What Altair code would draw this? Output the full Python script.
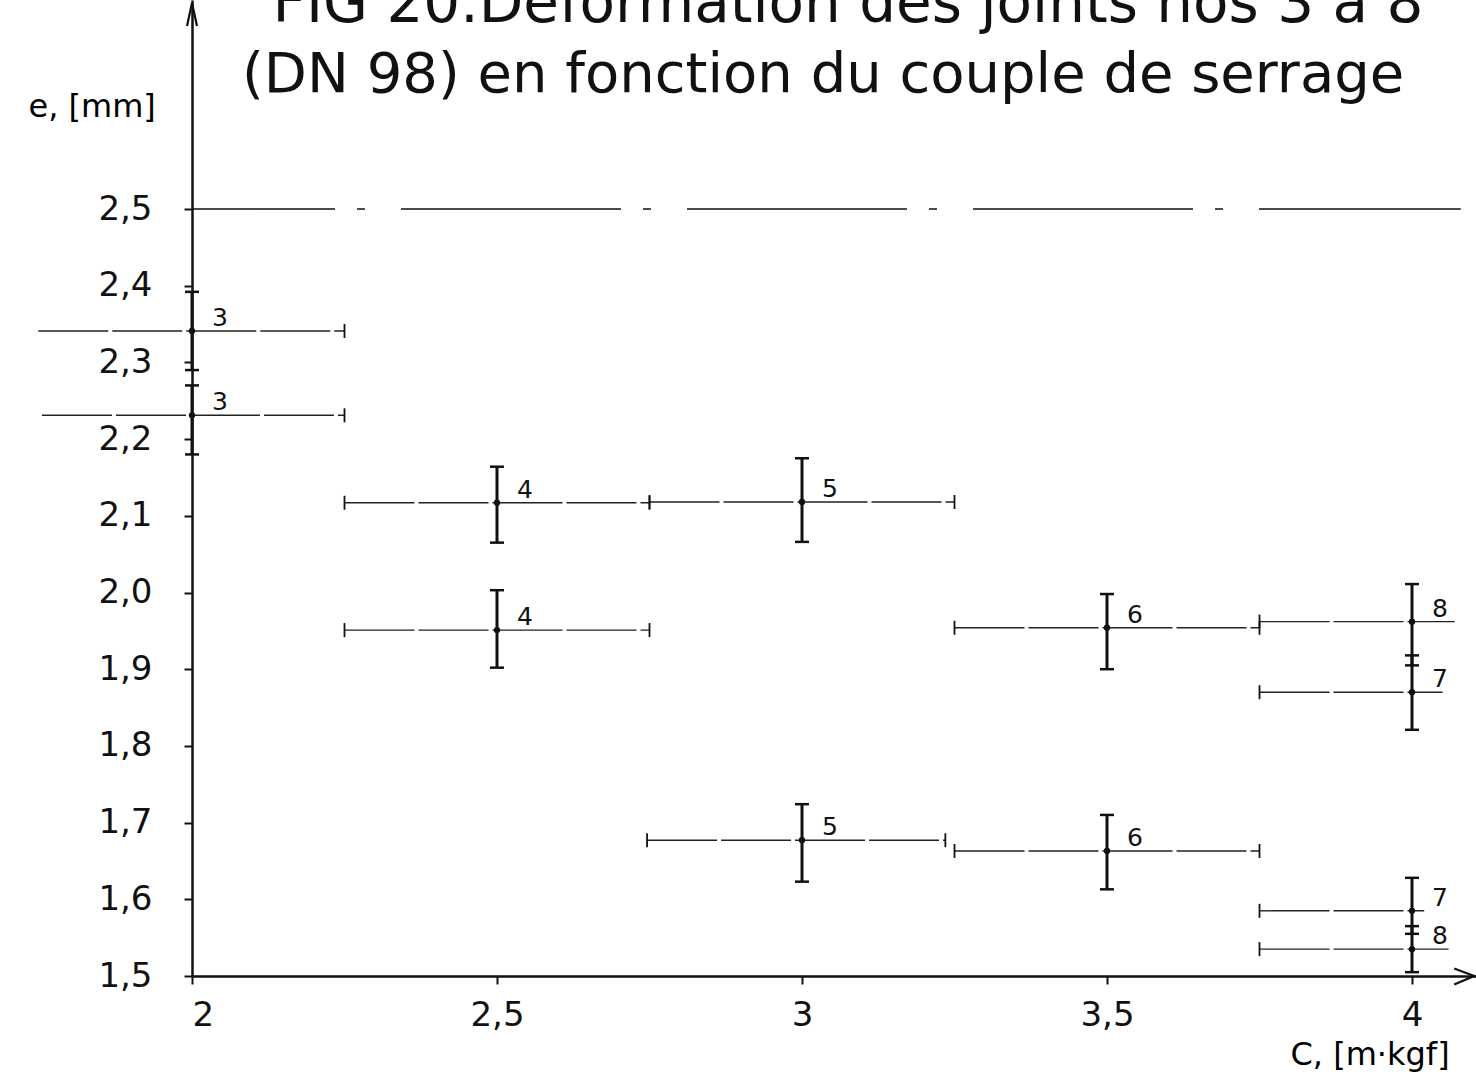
import altair as alt
import pandas as pd

# Joint deformation e [mm] versus tightening torque C [m.kgf], joints 3 to 8 (DN 98)
joint = ["3", "3", "4", "4", "5", "5", "6", "6", "8", "7", "7", "8"]
c_mid = [2.0, 2.0, 2.5, 2.5, 3.0, 3.0, 3.5, 3.5, 4.0, 4.0, 4.0, 4.0]
c_low = [1.748, 1.754, 2.25, 2.25, 2.75, 2.746, 3.25, 3.25, 3.75, 3.75, 3.75, 3.75]
c_high = [2.25, 2.25, 2.75, 2.75, 3.25, 3.235, 3.75, 3.75, 4.07, 4.05, 4.02, 4.06]
e_mid = [2.341, 2.231, 2.117, 1.951, 2.118, 1.677, 1.954, 1.663, 1.962, 1.870, 1.585, 1.535]
e_low = [2.29, 2.18, 2.065, 1.902, 2.066, 1.623, 1.900, 1.613, 1.905, 1.821, 1.555, 1.505]
e_high = [2.392, 2.27, 2.164, 2.003, 2.175, 1.724, 1.998, 1.710, 2.011, 1.918, 1.628, 1.565]

# limit line
limit_c = [2.0, 4.08]
limit_e = 2.5

x_ticks = [2.0, 2.5, 3.0, 3.5, 4.0]
y_ticks = [1.5, 1.6, 1.7, 1.8, 1.9, 2.0, 2.1, 2.2, 2.3, 2.4, 2.5]

title_1 = "FIG 20.Déformation des joints nos 3 à 8"
title_2 = "(DN 98) en fonction du couple de serrage"

X_DOMAIN = [2.0, 2.0 + 1284 / 610]
Y_DOMAIN = [1.5, 1.5 + 976 / 767]
FONT = "DejaVu Sans"
INK = "#111111"

df = pd.DataFrame({
    "joint": joint, "c": c_mid, "c_low": c_low, "c_high": c_high,
    "e": e_mid, "e_low": e_low, "e_high": e_high,
})

x_scale = alt.Scale(domain=X_DOMAIN, nice=False, zero=False)
y_scale = alt.Scale(domain=Y_DOMAIN, nice=False, zero=False)

x_axis = alt.Axis(
    values=x_ticks, format=".1~f", labelExpr="replace(datum.label, '.', ',')",
    title="C, [m·kgf]", titleFont=FONT, titleFontSize=32, titleFontWeight="normal",
    titleAngle=0, titleX=1098, titleY=88, titleAlign="left", titleBaseline="alphabetic",
    labelFont=FONT, labelFontSize=34, labelPadding=14, labelColor=INK,
    grid=False, domainColor=INK, domainWidth=2.5, tickColor=INK, tickWidth=2, tickSize=8,
)
y_axis = alt.Axis(
    values=y_ticks, format=".1f", labelExpr="replace(datum.label, '.', ',')",
    title="e, [mm]", titleFont=FONT, titleFontSize=32, titleFontWeight="normal",
    titleAngle=0, titleX=-164, titleY=116, titleAlign="left", titleBaseline="alphabetic",
    labelFont=FONT, labelFontSize=34, labelPadding=32, labelColor=INK,
    grid=False, domainColor=INK, domainWidth=2.5, tickColor=INK, tickWidth=2, tickSize=8,
)

base = alt.Chart(df)

# horizontal spread (torque range)
h_bars = base.mark_rule(color="#222222", strokeWidth=1.4, strokeDash=[70, 4]).encode(
    x=alt.X("c_low:Q", scale=x_scale, axis=x_axis),
    x2="c_high:Q",
    y=alt.Y("e:Q", scale=y_scale, axis=y_axis),
)

# vertical spread (deformation range)
v_bars = base.mark_rule(color=INK, strokeWidth=3).encode(
    x=alt.X("c:Q", scale=x_scale),
    y=alt.Y("e_low:Q", scale=y_scale),
    y2="e_high:Q",
)

hcap = "M -1 0 L 1 0"
vcap = "M 0 -1 L 0 1"

v_cap_top = base.mark_point(shape=hcap, size=196, strokeWidth=2.5, color=INK, opacity=1).encode(
    x=alt.X("c:Q", scale=x_scale), y=alt.Y("e_high:Q", scale=y_scale))
v_cap_bot = base.mark_point(shape=hcap, size=196, strokeWidth=2.5, color=INK, opacity=1).encode(
    x=alt.X("c:Q", scale=x_scale), y=alt.Y("e_low:Q", scale=y_scale))

h_cap_left = base.transform_filter("datum.c_low > 2.01").mark_point(
    shape=vcap, size=196, strokeWidth=1.8, color=INK, opacity=1).encode(
    x=alt.X("c_low:Q", scale=x_scale), y=alt.Y("e:Q", scale=y_scale))
h_cap_right = base.transform_filter("datum.c_high < 3.9").mark_point(
    shape=vcap, size=196, strokeWidth=1.8, color=INK, opacity=1).encode(
    x=alt.X("c_high:Q", scale=x_scale), y=alt.Y("e:Q", scale=y_scale))

centers = base.mark_circle(size=40, color=INK, opacity=1).encode(
    x=alt.X("c:Q", scale=x_scale), y=alt.Y("e:Q", scale=y_scale))

labels = base.mark_text(font=FONT, fontSize=25, color=INK, align="left", baseline="middle",
                        dx=20, dy=-13).encode(
    x=alt.X("c:Q", scale=x_scale), y=alt.Y("e:Q", scale=y_scale), text="joint:N")

limit_df = pd.DataFrame({"c0": [limit_c[0]], "c1": [limit_c[1]], "e": [limit_e]})
limit_line = alt.Chart(limit_df).mark_rule(
    color=INK, strokeWidth=1.6, strokeDash=[220, 22, 8, 36], strokeDashOffset=77).encode(
    x=alt.X("c0:Q", scale=x_scale), x2="c1:Q", y=alt.Y("e:Q", scale=y_scale))

# open arrow heads at the axis ends
arrow_df = pd.DataFrame({
    "c": [X_DOMAIN[1] - 0.003, X_DOMAIN[0]],
    "e": [Y_DOMAIN[0], Y_DOMAIN[1] - 0.004],
    "shape": ["M -2 -0.75 L 0 0 L -2 0.85", "M -0.5 2.3 L 0 0 L 0.5 2.3"],
})
arrows = alt.Chart(arrow_df).mark_point(filled=False, size=400, strokeWidth=2.2, color=INK,
                                         opacity=1).encode(
    x=alt.X("c:Q", scale=x_scale), y=alt.Y("e:Q", scale=y_scale),
    shape=alt.Shape("shape:N", scale=None))

title_df = pd.DataFrame({"t1": [title_1], "t2": [title_2]})
title_a = alt.Chart(title_df).mark_text(font=FONT, fontSize=58, color=INK, align="center",
                                        baseline="alphabetic").encode(
    x=alt.value(656), y=alt.value(22), text="t1:N")
title_b = alt.Chart(title_df).mark_text(font=FONT, fontSize=56, color=INK, align="left",
                                        baseline="alphabetic").encode(
    x=alt.value(50), y=alt.value(92), text="t2:N")

chart = alt.layer(
    limit_line, h_bars, v_bars, v_cap_top, v_cap_bot, h_cap_left, h_cap_right,
    centers, labels, arrows, title_a, title_b,
).properties(
    width=1284, height=976,
    autosize=alt.AutoSizeParams(type="none"),
    padding={"left": 192, "top": 0, "right": 0, "bottom": 98},
    background="white",
).configure_view(stroke=None)

chart.save("out.html", embed_options={"renderer": "svg", "actions": False})
